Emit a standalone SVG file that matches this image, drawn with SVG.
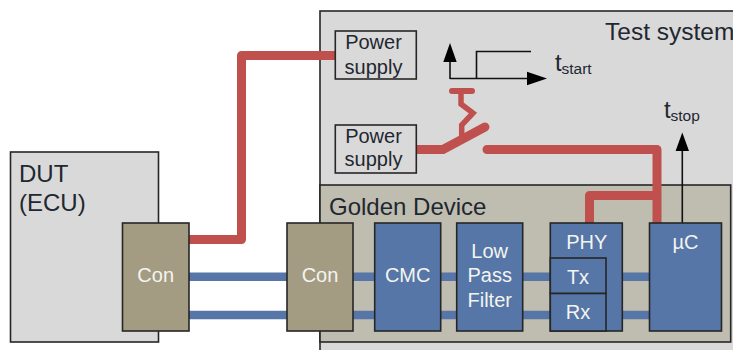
<svg xmlns="http://www.w3.org/2000/svg" width="733" height="350" viewBox="0 0 733 350">
<defs>
<style>
text{font-family:"Liberation Sans",Arial,sans-serif;font-size:20px;fill:#1f2730}
.lg{font-size:24px}
.sub{font-size:15.5px}
.w{fill:#f4f4f0;text-anchor:middle}
.d{text-anchor:middle}
.box{stroke:#262626;stroke-width:1.6}
.gray{fill:#d9d9d9}
.blue{fill:#5576a6}
.tan{fill:#a39c82}
.red{fill:none;stroke:#c0504d;stroke-width:9;stroke-linejoin:round}
.bus{fill:none;stroke:#5576a6;stroke-width:8.5}
.thin{fill:none;stroke:#111;stroke-width:1.6}
.ah{fill:#000}
</style>
</defs>
<g id="test-system"><rect class="gray box" x="320" y="11" width="420" height="350"/><text class="lg" x="605" y="40" style="font-size:24.500px">Test system</text></g>
<g id="golden-device"><rect x="320" y="185" width="410.700" height="157" fill="#bfbcb0" class="box"/><text class="lg" x="329" y="214.500">Golden Device</text></g>
<g id="dut"><rect class="gray box" x="10.500" y="152" width="148" height="190"/><text class="lg" x="19" y="181.500">DUT</text><text class="lg" x="19" y="210.500">(ECU)</text></g>
<g id="connectors">
<path class="red" d="M189 239.500H241.500V55.500H335"/>
<path class="red" d="M417 149.500H443"/>
<path class="red" stroke-linecap="round" d="M443 149.500L485 127"/>
<path class="red" stroke-linecap="round" d="M487 149.500H657V223"/>
<path class="red" d="M589.500 223V195.500H657"/>
<path fill="none" stroke="#c0504d" stroke-width="6" stroke-linecap="round" d="M452 91H472"/>
<path fill="none" stroke="#c0504d" stroke-width="5.500" d="M461 91V104L473 113L461.700 125V137"/>
<path class="bus" d="M189 276.700H287M353 276.700H375M441 276.700H457M523 276.700H551M622 276.700H650"/>
<path class="bus" d="M189 315H287M353 315H375M441 315H457M523 315H551M622 315H650"/>
<path class="thin" d="M450 79V60"/>
<path class="ah" d="M450 43L456.700 62H443.300Z"/>
<path class="thin" d="M450 78.500H530"/>
<path class="ah" d="M547 78.500L527 71.800V85.200Z"/>
<path class="thin" d="M476.500 78.500V51.500H531"/>
<path class="thin" d="M682.300 223V151"/>
<path class="ah" d="M682.300 132.500L689 151H675.600Z"/>
</g>
<g id="power-supply-1"><rect x="335.300" y="31" width="81" height="48" fill="none" class="box"/><text class="d" x="373.500" y="49">Power</text><text class="d" x="373.500" y="73.500">supply</text></g>
<g id="power-supply-2"><rect x="335.300" y="125" width="81" height="48" fill="none" class="box"/><text class="d" x="373.500" y="143">Power</text><text class="d" x="373.500" y="166">supply</text></g>
<g id="t-start"><text class="lg" x="555" y="71">t</text><text class="sub" x="561.500" y="73.500">start</text></g>
<g id="t-stop"><text class="lg" x="664" y="118">t</text><text class="sub" x="670.500" y="120.500">stop</text></g>
<g id="con-1"><rect class="tan box" x="122.500" y="223" width="66.500" height="108"/><text class="w" x="155.700" y="282">Con</text></g>
<g id="con-2"><rect class="tan box" x="287" y="223" width="66" height="108"/><text class="w" x="320" y="282">Con</text></g>
<g id="cmc"><rect class="blue box" x="374.700" y="223" width="66" height="108"/><text class="w" x="407.700" y="282">CMC</text></g>
<g id="lpf"><rect class="blue box" x="456.700" y="223" width="66" height="108"/><text class="w" x="489.700" y="258">Low</text><text class="w" x="489.700" y="282">Pass</text><text class="w" x="489.700" y="306.500">Filter</text></g>
<g id="phy"><rect class="blue box" x="550.300" y="223" width="72" height="108"/><text class="w" x="586.700" y="248.500">PHY</text></g>
<g id="tx"><rect class="blue box" x="550.300" y="258" width="55.700" height="35.500"/><text class="w" x="578" y="284">Tx</text></g>
<g id="rx"><rect class="blue box" x="550.300" y="293.500" width="55.700" height="37.500"/><text class="w" x="578" y="318.500">Rx</text></g>
<g id="uc"><rect class="blue box" x="649.500" y="223" width="72" height="108"/><text class="w" x="685.500" y="248.500">µC</text></g>
</svg>
